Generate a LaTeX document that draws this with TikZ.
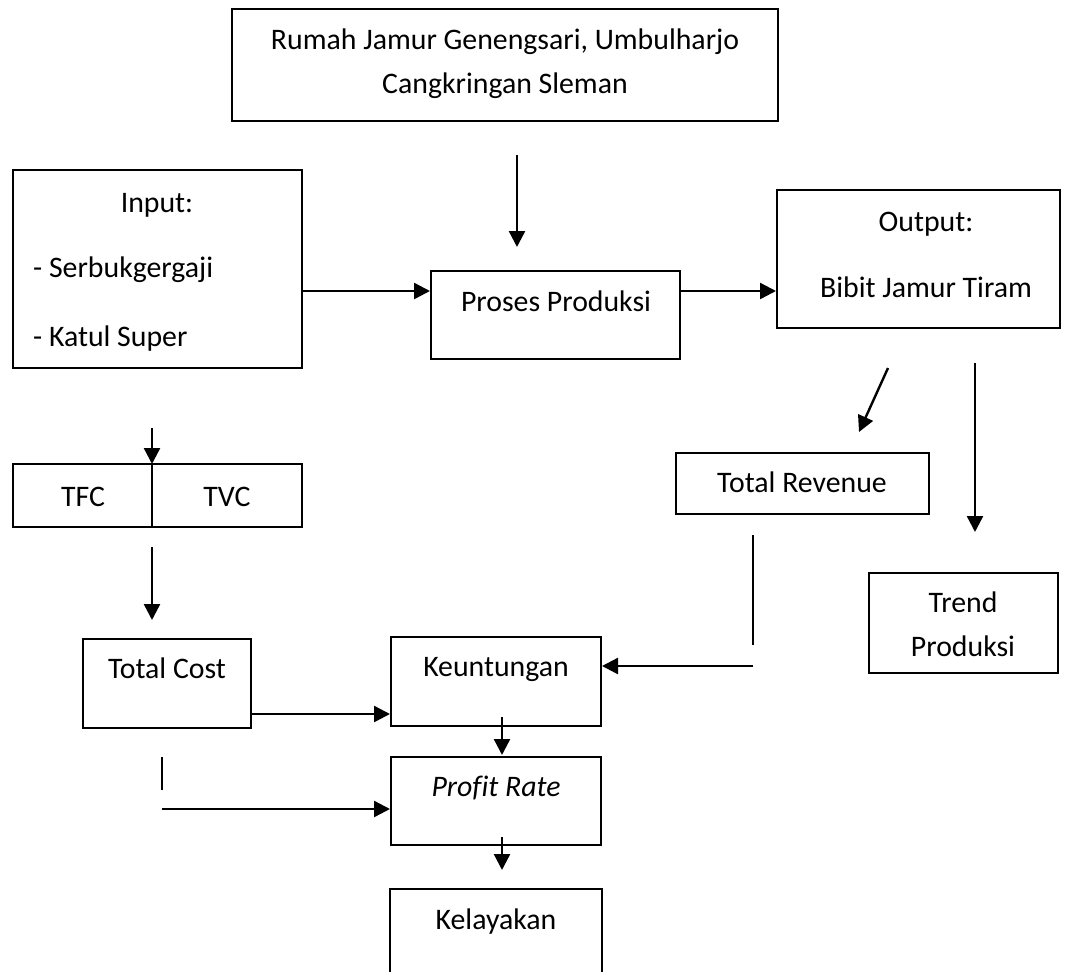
\documentclass[tikz,border=0pt]{standalone}
\usepackage{fontspec}
\setmainfont{Carlito}
\usetikzlibrary{arrows.meta}
\begin{document}
\begin{tikzpicture}[x=1pt,y=-1pt,
  box/.style={draw, line width=2pt, inner sep=0pt, rectangle},
  lbl/.style={inner sep=0pt, text height=19pt, text depth=0pt, font=\fontsize{29.8}{36}\selectfont},
  arr/.style={line width=2.4pt, -{Triangle[length=16pt,width=16pt]}},
  ln/.style={line width=1.8pt}]
\useasboundingbox (0,0) rectangle (1074,972);
\clip (0,0) rectangle (1074,972);
% boxes
\node[box, minimum width=546pt, minimum height=112pt] (top) at (505,65) {};
\node[box, minimum width=289pt, minimum height=198pt] (input) at (157.5,269) {};
\node[box, minimum width=249pt, minimum height=88pt] (proses) at (555.5,315) {};
\node[box, minimum width=283pt, minimum height=138pt] (output) at (918.5,259) {};
\node[box, minimum width=289pt, minimum height=63pt] (tfc) at (157.5,495.5) {};
\node[box, minimum width=253pt, minimum height=61pt] (tr) at (802.5,483.5) {};
\node[box, minimum width=189pt, minimum height=100pt] (trend) at (963.5,623) {};
\node[box, minimum width=168pt, minimum height=89pt] (tc) at (167,683.5) {};
\node[box, minimum width=210pt, minimum height=89pt] (keu) at (496,681.5) {};
\node[box, minimum width=210pt, minimum height=88pt] (pr) at (496,801) {};
\node[box, minimum width=212pt, minimum height=110pt] (kel) at (496,944) {};
% divider of TFC | TVC
\coordinate (dvt) at (152,464);
\coordinate (dvb) at (152,527);
\draw[line width=2pt] (dvt) -- (dvb);
% texts
\node[lbl] (t1) at (505,40) {Rumah Jamur Genengsari, Umbulharjo};
\node[lbl] (t2) at (505,84) {Cangkringan Sleman};
\node[lbl] (tin) at (157,203) {Input:};
\node[lbl, anchor=west] (tin1) at (33,268) {- Serbukgergaji};
\node[lbl, anchor=west] (tin2) at (33,337) {- Katul Super};
\node[lbl] (tpp) at (556,302) {Proses Produksi};
\node[lbl] (tout) at (926,222) {Output:};
\node[lbl] (tout1) at (926,288) {Bibit Jamur Tiram};
\node[lbl] (ttfc) at (83,497) {TFC};
\node[lbl] (ttvc) at (227,497) {TVC};
\node[lbl] (ttr) at (802,483) {Total Revenue};
\node[lbl] (ttrend1) at (963,603) {Trend};
\node[lbl] (ttrend2) at (963,647) {Produksi};
\node[lbl] (ttc) at (167,669) {Total Cost};
\node[lbl] (tkeu) at (496,667) {Keuntungan};
\node[lbl] (tpr) at (496,787) {\addfontfeatures{Ligatures=NoCommon}\itshape Profit Rate};
\node[lbl] (tkel) at (496,920) {Kelayakan};
% free connector ends
\coordinate (a1s) at (517,155);
\coordinate (a1e) at (517,247);
\coordinate (yA) at (0,291);
\coordinate (d1s) at (888,368);
\coordinate (d1e) at (859,432);
\coordinate (v1s) at (975,363);
\coordinate (v1e) at (975,532);
\coordinate (c1s) at (152,428);
\coordinate (c2s) at (152,547);
\coordinate (c2e) at (152,620);
\coordinate (yB) at (0,714);
\coordinate (r1s) at (753,535);
\coordinate (r1e) at (753,645);
\coordinate (r2s) at (753,666);
\coordinate (k1s) at (502,717);
\coordinate (k1e) at (502,755);
\coordinate (s1s) at (162,757);
\coordinate (s1e) at (162,790);
\coordinate (p1s) at (162,809);
\coordinate (p2s) at (502,837);
\coordinate (p2e) at (502,870);
% connectors
\draw[arr] (a1s) -- (a1e);
\draw[arr] (input.east |- yA) -- (proses.west |- yA);
\draw[arr] (proses.east |- yA) -- (output.west |- yA);
\draw[arr] (d1s) -- (d1e);
\draw[arr] (v1s) -- (v1e);
\draw[arr] (c1s) -- (dvt);
\draw[arr] (c2s) -- (c2e);
\draw[arr] (tc.east |- yB) -- (keu.west |- yB);
\draw[ln] (r1s) -- (r1e);
\draw[arr] (r2s) -- (keu.east |- r2s);
\draw[arr] (k1s) -- (k1e);
\draw[ln] (s1s) -- (s1e);
\draw[arr] (p1s) -- (pr.west |- p1s);
\draw[arr] (p2s) -- (p2e);
\end{tikzpicture}
\end{document}
